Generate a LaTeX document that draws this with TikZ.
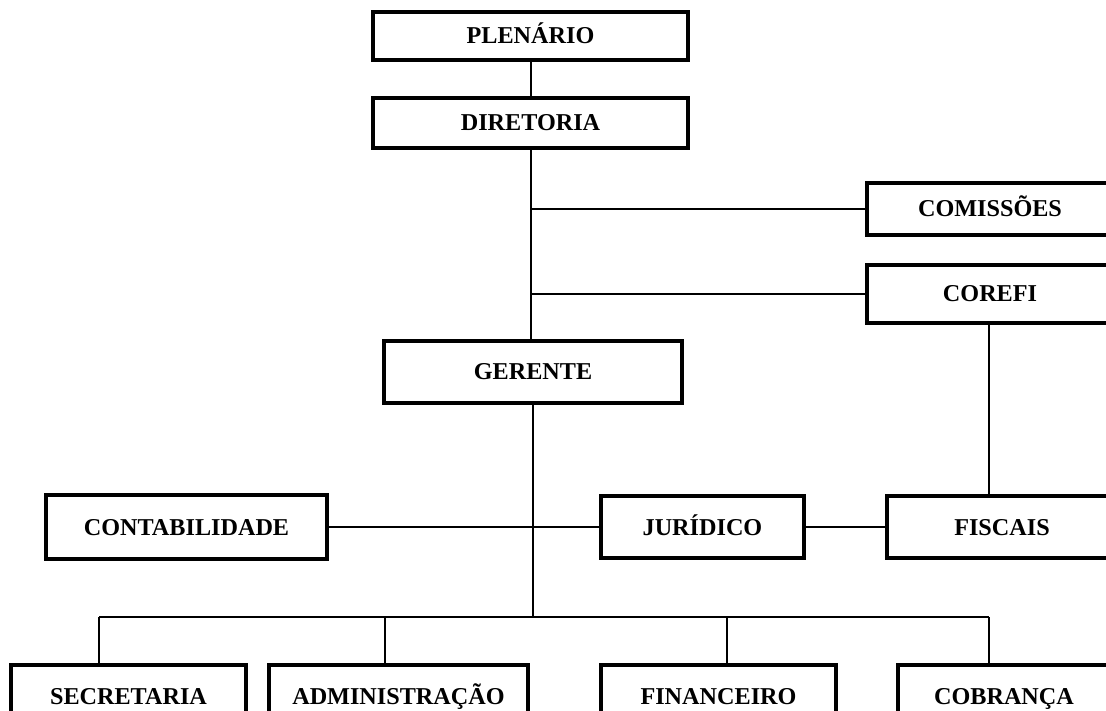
\documentclass[tikz,border=0pt]{standalone}
\usepackage{fontspec}
\setmainfont{Liberation Serif}
\usepackage{tikz}

\tikzset{
  orgbox/.style={draw, line width=4pt, rectangle, inner sep=0pt,
    text height=16pt, text depth=0pt,
    font=\fontsize{24.2}{29}\selectfont\bfseries},
  link/.style={line width=2pt}
}

\begin{document}
\begin{tikzpicture}[x=1pt,y=-1pt]

        \useasboundingbox (0,0) rectangle (1106,711);
        \clip (0,0) rectangle (1106,711);

        \node[orgbox, minimum width=315pt, minimum height=48pt] (plen) at (530.5,36) {PLENÁRIO};
        \node[orgbox, minimum width=315pt, minimum height=50pt] (dir) at (530.5,123) {DIRETORIA};

        \node[orgbox, minimum width=246pt, minimum height=52pt] (comis) at (990,209) {COMISSÕES};
        \node[orgbox, minimum width=246pt, minimum height=58pt] (corefi) at (990,294) {COREFI};

        \node[orgbox, minimum width=298pt, minimum height=62pt] (ger) at (533,372) {GERENTE};

        \node[orgbox, minimum width=281pt, minimum height=64pt] (cont) at (186.5,527) {CONTABILIDADE};
        \node[orgbox, minimum width=203pt, minimum height=62pt] (jur) at (702.5,527) {JURÍDICO};
        \node[orgbox, minimum width=230pt, minimum height=62pt] (fisc) at (1002,527) {FISCAIS};

        \node[orgbox, minimum width=235pt, minimum height=62pt] (secr) at (128.5,696) {SECRETARIA};
        \node[orgbox, minimum width=259pt, minimum height=62pt] (adm) at (398.5,696) {ADMINISTRAÇÃO};
        \node[orgbox, minimum width=235pt, minimum height=62pt] (fin) at (718.5,696) {FINANCEIRO};
        \node[orgbox, minimum width=212pt, minimum height=62pt] (cob) at (1004,696) {COBRANÇA};

        % bus above the bottom row
        \coordinate (bus) at (533,617);
        \coordinate (b1) at (99,617);
        \coordinate (b2) at (385,617);
        \coordinate (b3) at (727,617);
        \coordinate (b4) at (989,617);

        \draw[link] (plen) -- (dir);
        \draw[link] (dir.south) -- (dir.south |- ger.north);
        \draw[link] (dir.south |- comis.west) -- (comis.west);
        \draw[link] (dir.south |- corefi.west) -- (corefi.west);
        \draw[link] (b4 |- corefi.south) -- (b4 |- fisc.north);

        \draw[link] (ger.south) -- (bus);
        \draw[link] (cont.east) -- (jur.west);
        \draw[link] (jur.east) -- (fisc.west);

        \draw[link] (b1) -- (b4);
        \draw[link] (b1) -- (b1 |- secr.north);
        \draw[link] (b2) -- (b2 |- adm.north);
        \draw[link] (b3) -- (b3 |- fin.north);
        \draw[link] (b4) -- (b4 |- cob.north);

    \end{tikzpicture}
\end{document}
